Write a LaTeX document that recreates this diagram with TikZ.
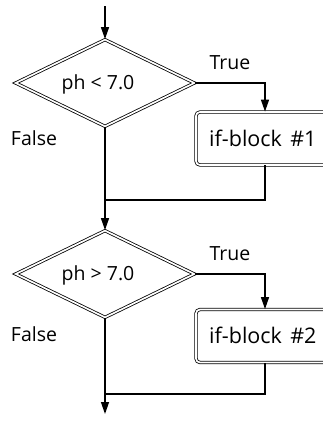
\documentclass[tikz,border=0pt]{standalone}
\usepackage{fontspec}
\setmainfont{Open Sans}
\newfontfamily\blockfont[WordSpace=1.5]{Open Sans}
\usetikzlibrary{shapes.geometric,arrows.meta}
\begin{document}
\begin{tikzpicture}[x=1pt,y=1pt,
  flow/.style={line width=1.3pt,-{Triangle[length=12pt,width=8pt]}},
  plain/.style={line width=1.3pt},
  dbl/.style={draw,line width=0.8pt,double,double distance=1.7pt},
  decision/.style={dbl,diamond,minimum width=179pt,minimum height=87pt,inner sep=0pt},
  block/.style={dbl,rounded corners=4pt,minimum width=138pt,minimum height=53pt,inner sep=0pt},
  txt/.style={font=\fontsize{19.5}{22}\selectfont,inner sep=0pt},
  btxt/.style={font=\blockfont\fontsize{21.5}{24}\selectfont,inner sep=0pt,anchor=west}]
\useasboundingbox (0,0) rectangle (322,-423);
\coordinate (start) at (105,-6);
\node[decision] (d1) at (105,-83) {};
\node[txt] (t1) at (98,-84) {ph < 7.0};
\node[txt] (tr1) at (230,-63) {True};
\node[txt] (f1) at (34,-138) {False};
\node[block] (b1) at (265,-138.5) {};
\node[btxt] (bt1) at (209,-138) {if-block \#1};
\coordinate (m1) at (105,-200);
\node[decision] (d2) at (105,-274) {};
\node[txt] (t2) at (98,-275) {ph > 7.0};
\node[txt] (tr2) at (230,-254) {True};
\node[txt] (f2) at (34,-334) {False};
\node[block] (b2) at (265,-336) {};
\node[btxt] (bt2) at (209,-335.5) {if-block \#2};
\coordinate (m2) at (105,-394);
\coordinate (end) at (105,-414);
\draw[flow] (start) -- (d1.north);
\draw[flow] (d1.east) -| (b1.north);
\draw[flow] (d1.south) -- (d2.north);
\draw[plain] (b1.south) |- (m1);
\draw[flow] (d2.east) -| (b2.north);
\draw[flow] (d2.south) -- (end);
\draw[plain] (b2.south) |- (m2);
\end{tikzpicture}
\end{document}
